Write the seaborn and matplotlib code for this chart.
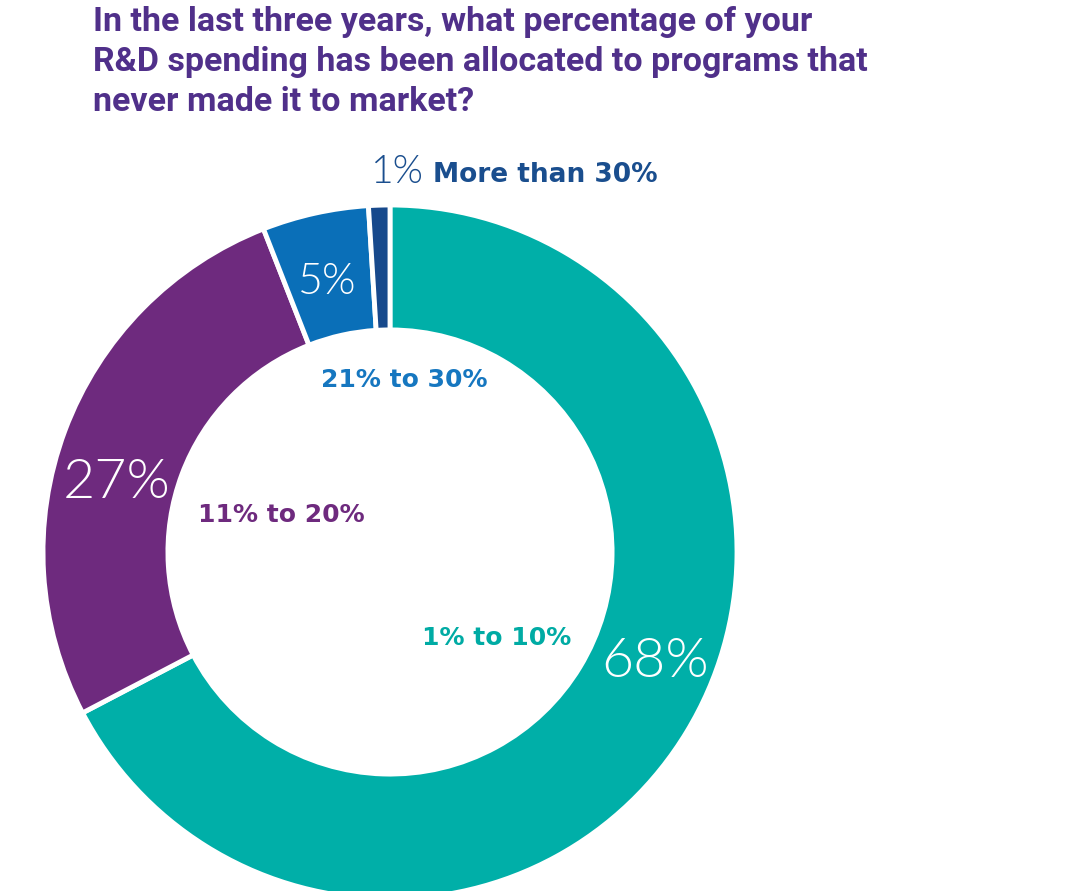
import matplotlib
matplotlib.use('Agg')
import matplotlib.pyplot as plt
import seaborn as sns

# Data
categories = ['1% to 10%', '11% to 20%', '21% to 30%', 'More than 30%']
values = [68, 27, 5, 1]
value_labels = ['68%', '27%', '5%', '1%']
title_lines = ['In the last three years, what percentage of your',
               'R&D spending has been allocated to programs that',
               'never made it to market?']

sns.set_theme(style='white')
wedge_colors = sns.color_palette(['#00AFA8', '#6E2A7E', '#0A6FB8', '#17498C'])
text_colors = ['#00ABA4', '#6E2A7E', '#1677C0', '#1A4E8E']
title_color = '#50308A'
light_font = ['Lato', 'DejaVu Sans']

W, H = 1080, 891
fig = plt.figure(figsize=(W / 100, H / 100), dpi=100)
ax = fig.add_axes([0, 0, 1, 1])

# donut centre at pixel (390, 552), outer radius 347 px
cx, cy, R = 390, 552, 347
ax.pie(values, colors=wedge_colors, startangle=90, counterclock=False,
       radius=1, wedgeprops=dict(width=0.36, edgecolor='white', linewidth=3.5))
ax.set_xlim(-cx / R, (W - cx) / R)
ax.set_ylim(-(H - cy) / R, cy / R)
ax.set_aspect('auto')
ax.axis('off')


def fx(px):
    return px / W


def fy(py):
    return 1 - py / H


# title
for i, line in enumerate(title_lines):
    fig.text(fx(93), fy(22 + i * 40), line, ha='left', va='center',
             fontsize=24.5, fontweight='bold', color=title_color,
             family=['Roboto', 'DejaVu Sans'])

# white value labels inside the ring
fig.text(fx(655), fy(662), value_labels[0], ha='center', va='center',
         fontsize=40, color='white', fontweight=300, family=light_font)
fig.text(fx(117), fy(483), value_labels[1], ha='center', va='center',
         fontsize=40, color='white', fontweight=300, family=light_font)
fig.text(fx(327), fy(283), value_labels[2], ha='center', va='center',
         fontsize=31, color='white', fontweight=300, family=light_font)

# category labels
fig.text(fx(497), fy(638), categories[0], ha='center', va='center',
         fontsize=18, fontweight='bold', color=text_colors[0])
fig.text(fx(281), fy(515), categories[1], ha='center', va='center',
         fontsize=18, fontweight='bold', color=text_colors[1])
fig.text(fx(404), fy(380), categories[2], ha='center', va='center',
         fontsize=18, fontweight='bold', color=text_colors[2])

# top label for the smallest slice
fig.text(fx(397), fy(172), value_labels[3], ha='center', va='center',
         fontsize=28, color=text_colors[3], fontweight=300, family=light_font)
fig.text(fx(433), fy(175), categories[3], ha='left', va='center',
         fontsize=19, fontweight='bold', color=text_colors[3])

fig.savefig('out.png', dpi=100)
